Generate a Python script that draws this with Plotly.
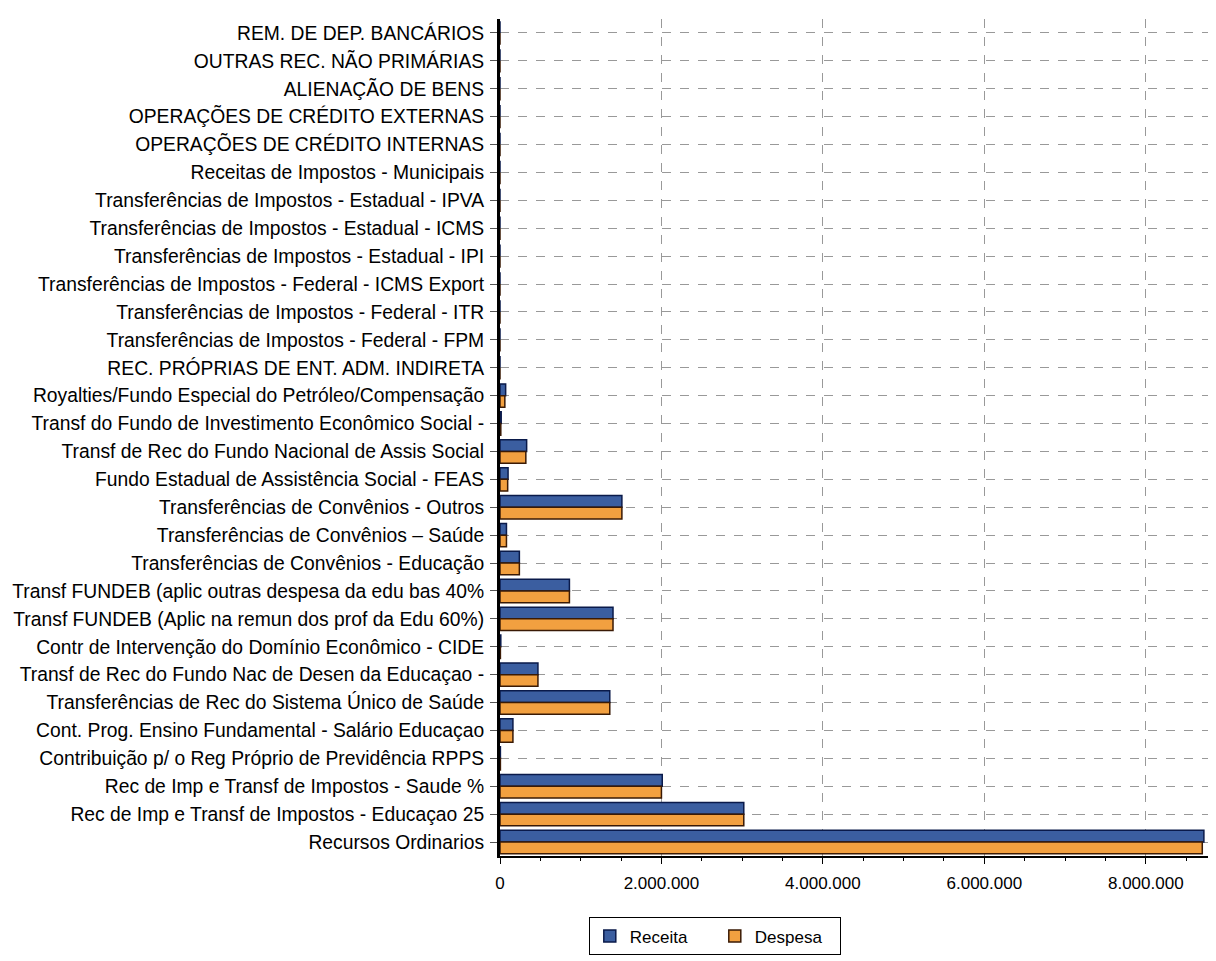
import plotly.graph_objects as go

categories = [
    "REM. DE DEP. BANCÁRIOS",
    "OUTRAS REC. NÃO PRIMÁRIAS",
    "ALIENAÇÃO DE BENS",
    "OPERAÇÕES DE CRÉDITO EXTERNAS",
    "OPERAÇÕES DE CRÉDITO INTERNAS",
    "Receitas de Impostos - Municipais",
    "Transferências de Impostos - Estadual - IPVA",
    "Transferências de Impostos - Estadual - ICMS",
    "Transferências de Impostos - Estadual - IPI",
    "Transferências de Impostos - Federal - ICMS Export",
    "Transferências de Impostos - Federal - ITR",
    "Transferências de Impostos - Federal - FPM",
    "REC. PRÓPRIAS DE ENT. ADM. INDIRETA",
    "Royalties/Fundo Especial do Petróleo/Compensação",
    "Transf do Fundo de Investimento Econômico Social -",
    "Transf de Rec do Fundo Nacional de Assis Social",
    "Fundo Estadual de Assistência Social - FEAS",
    "Transferências de Convênios - Outros",
    "Transferências de Convênios – Saúde",
    "Transferências de Convênios - Educação",
    "Transf FUNDEB (aplic outras despesa da edu bas 40%",
    "Transf FUNDEB (Aplic na remun dos prof da Edu 60%)",
    "Contr de Intervenção do Domínio Econômico - CIDE",
    "Transf de Rec do Fundo Nac de Desen da Educaçao -",
    "Transferências de Rec do Sistema Único de Saúde",
    "Cont. Prog. Ensino Fundamental - Salário Educaçao",
    "Contribuição p/ o Reg Próprio de Previdência RPPS",
    "Rec de Imp e Transf de Impostos - Saude %",
    "Rec de Imp e Transf de Impostos - Educaçao 25",
    "Recursos Ordinarios",
]

receita = [
    0, 0, 0, 0, 0, 0, 0, 0, 0, 0, 0, 0, 0,
    70000, 15000, 330000, 100000, 1510000, 80000, 240000,
    860000, 1400000, 10000, 470000, 1360000, 160000, 5000,
    2010000, 3020000, 8720000,
]

despesa = [
    0, 0, 0, 0, 0, 0, 0, 0, 0, 0, 0, 0, 0,
    60000, 10000, 320000, 95000, 1510000, 80000, 240000,
    860000, 1400000, 5000, 470000, 1360000, 160000, 5000,
    2000000, 3020000, 8700000,
]

tick_vals = [0, 2000000, 4000000, 6000000, 8000000]

fig = go.Figure()
fig.add_trace(go.Bar(
    y=categories, x=receita, orientation="h", name="Receita",
    marker=dict(color="#3B5EA0", line=dict(color="#0A1A4A", width=1.5)),
))
fig.add_trace(go.Bar(
    y=categories, x=despesa, orientation="h", name="Despesa",
    marker=dict(color="#F2A040", line=dict(color="#3A1A05", width=1.5)),
))

fig.update_layout(
    width=1208, height=953,
    margin=dict(l=492, r=0, t=11, b=105, autoexpand=False),
    barmode="group", bargap=0.16, bargroupgap=0.0,
    plot_bgcolor="white", paper_bgcolor="white",
    separators=",.",
    font=dict(family="Liberation Sans, Arial, sans-serif", color="black"),
    showlegend=True,
    legend=dict(
        orientation="h", x=0.30, xanchor="center", y=-0.096, yanchor="middle",
        bordercolor="black", borderwidth=1, bgcolor="white",
        font=dict(size=17), traceorder="normal", entrywidth=80,
    ),
)
fig.update_xaxes(
    range=[0, 8.87e6], tickvals=tick_vals, tickformat=",d",
    showgrid=True, gridcolor="#999999", griddash="dash", gridwidth=1,
    showline=True, linecolor="black", linewidth=2,
    ticks="outside", ticklen=6, tickcolor="black",
    ticklabelstandoff=5,
    minor=dict(dtick=500000, ticks="outside", ticklen=3, tickcolor="black", showgrid=False),
    tickfont=dict(size=17), zeroline=False,
)
fig.update_yaxes(
    autorange="reversed", type="category",
    showgrid=True, gridcolor="#999999", griddash="dash", gridwidth=1,
    showline=True, linecolor="black", linewidth=3,
    ticks="outside", ticklen=7, tickcolor="#555555",
    ticklabelstandoff=2,
    tickfont=dict(size=19.3),
)

fig.write_html("out.html")
